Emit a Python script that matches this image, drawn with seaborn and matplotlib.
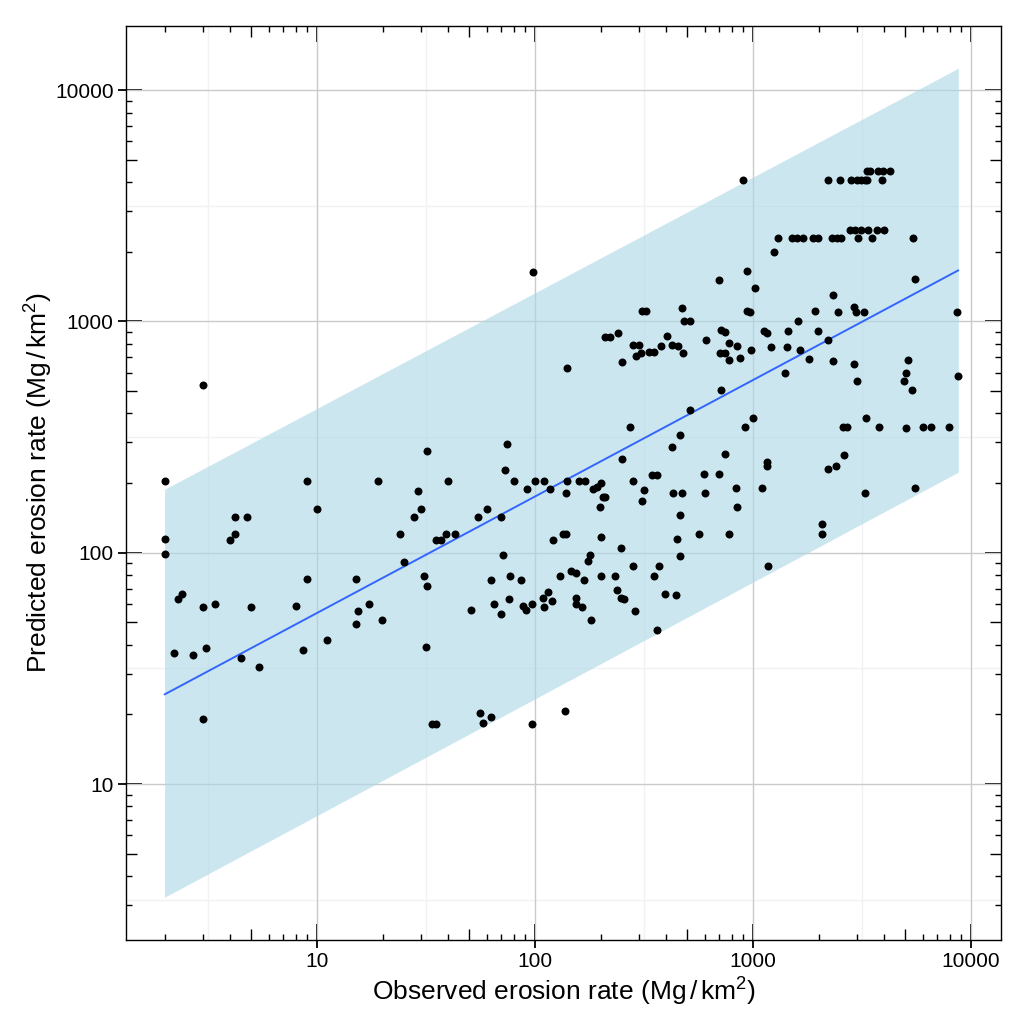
import matplotlib
matplotlib.use("Agg")
import matplotlib.pyplot as plt
import matplotlib.ticker as mticker
import seaborn as sns

# observed vs predicted erosion rates (Mg/km2)
observed = [
    3.0, 2.0, 9.0, 10, 19, 32, 29, 30, 28, 24, 25, 31, 32, 31.6, 2.0, 2.0,
    4.2, 4.8, 4.2, 4.0, 9.0, 15.1, 15.4, 15.1, 17.3, 19.9, 11.1, 8.0, 8.6,
    5.0, 3.4, 3.0, 2.3, 2.4, 2.2, 2.7, 3.1, 4.5, 5.4, 3.0, 33.6, 35.2,
    40, 74.5, 73, 80, 100, 110, 91.6, 117, 141, 160, 170, 139, 185, 192,
    201, 205, 210, 199, 281, 316, 311, 431, 472, 603, 462, 447, 462, 564,
    773, 54.8, 60, 70, 39, 43, 35, 37, 71.6, 63, 77, 86.6, 50.7, 64.6,
    75.7, 70, 88, 90.6, 96.8, 120.5, 135, 139, 201, 248, 179, 175, 130,
    146, 155, 168, 200, 233, 281, 371, 351, 109, 115, 119.4, 110, 154,
    155, 164, 237, 249, 256, 181, 289, 396, 443, 361, 55.7, 57.5, 63,
    96.6, 137,
    97.5, 140, 700, 472, 309, 323, 482, 514, 209, 221, 241, 251, 281, 301,
    290, 308, 332, 351, 377, 404, 425, 454, 479, 611, 711, 742, 776, 703,
    746, 777, 711, 512, 272, 461, 423, 745, 251, 344, 364, 596, 696,
    904, 2200, 2507, 2806, 2990, 3130, 3263, 3345, 3920,
    3325, 3443, 3760, 3963, 4256,
    1306, 1503, 1585, 1700, 1892, 1995, 2292, 2420, 2530, 3020, 3515, 5400,
    2786, 2937, 3130, 3380, 3690, 3990,
    1244, 5530, 8600, 8710, 935, 1020, 941, 968, 1122, 1155, 1452, 1614,
    1983, 1925, 2317, 2460, 2905, 2957, 3240, 2210, 1645, 1808, 1437, 1213,
    1406, 982, 843, 871, 2340, 2915, 3010, 5130, 5040, 4910, 5380, 1000,
    922, 3310, 2595, 2710, 3800, 5010, 6000, 6530, 7890, 2610, 2410, 2207,
    1163, 1163, 836, 1104, 3260, 5530, 842, 2080, 2080, 1170,
]
predicted = [
    530, 205, 205, 155, 205, 275, 185, 155, 143, 121, 91, 79, 72, 39, 115, 99,
    143, 143, 121, 113, 77, 77, 56, 49, 60, 51, 42, 59, 38,
    58, 60, 58, 63, 66.5, 37, 36, 38.6, 35, 32, 19.1, 18.1, 18.1,
    204, 294, 228, 204, 204, 204, 189, 189, 204, 204, 204, 181, 189, 192,
    200, 175, 175, 157, 204, 187, 168, 181, 181, 181, 146, 115, 97, 121,
    120, 143, 155, 143, 121, 121, 113, 113, 98, 76, 79, 76, 56.6, 59.8,
    63.4, 54.6, 59, 56.6, 59.8, 113, 121, 121, 117, 105, 98, 92.5, 79,
    83, 81.7, 76, 79, 79, 88, 88, 79, 63.8, 67.5, 62, 58, 64,
    60, 58, 69, 64, 63, 51.4, 56, 66, 65.5, 46.4, 20.2, 18.4, 19.5,
    18.1, 20.6,
    1637, 626, 1517, 1138, 1104, 1104, 1000, 1000, 859, 859, 890, 670, 788, 788,
    706, 728, 735, 735, 785, 861, 794, 785, 728, 833, 921, 903, 807, 733,
    733, 681, 506, 415, 349, 323, 287, 266, 254, 217, 217, 219, 219,
    4090, 4090, 4090, 4090, 4090, 4090, 4090, 4090, 4090,
    4475, 4475, 4475, 4475, 4475,
    2286, 2286, 2286, 2286, 2286, 2286, 2286, 2286, 2286, 2286, 2286, 2286,
    2484, 2484, 2484, 2484, 2484, 2484,
    1997, 1520, 1094, 578, 1648, 1397, 1108, 1094, 908, 893, 908, 1000,
    908, 1108, 1298, 1094, 1153, 1094, 1094, 828, 750, 690, 773, 773,
    597, 750, 782, 697, 675, 657, 550, 681, 597, 550, 506, 384,
    349, 384, 349, 349, 349, 345, 349, 349, 349, 264, 238, 231,
    246, 237, 190, 190, 181, 190, 158, 133, 121, 88,
]

# fitted line and prediction band (log-log), endpoints only
fit_x = [2.0, 8750.0]
fit_y = [24.4, 1663.0]
band_lower = [3.24, 223.0]
band_upper = [188.0, 12440.0]

x_breaks = [10, 100, 1000, 10000]
x_labels = ["10", "100", "1000", "10000"]
y_breaks = [10, 100, 1000, 10000]
y_labels = ["10", "100", "1000", "10000"]
mid_breaks = [5, 50, 500, 5000]
minor_grid = [10 ** 0.5, 10 ** 1.5, 10 ** 2.5, 10 ** 3.5]

sns.set_theme(style="white")
plt.rcParams["font.family"] = ["Liberation Sans", "DejaVu Sans"]
plt.rcParams["mathtext.fontset"] = "custom"
plt.rcParams["mathtext.rm"] = "Liberation Sans"
plt.rcParams["mathtext.it"] = "Liberation Sans:italic"
plt.rcParams["mathtext.bf"] = "Liberation Sans:bold"

fig = plt.figure(figsize=(10.24, 10.24), dpi=100)
ax = fig.add_axes([0.123, 0.0825, 0.855, 0.892])
ax.set_xscale("log")
ax.set_yscale("log")

# panel grid
for v in minor_grid:
    ax.axvline(v, color="#f2f2f2", lw=1.0, zorder=0)
    ax.axhline(v, color="#f2f2f2", lw=1.0, zorder=0)
ax.set_axisbelow(True)
ax.grid(True, which="major", color="#cacaca", lw=1.0)

ax.fill_between(fit_x, band_lower, band_upper, color="#add8e6", alpha=0.62,
                lw=0, zorder=1)
sns.lineplot(x=fit_x, y=fit_y, color="#3366ff", lw=1.4, ax=ax, zorder=2)
sns.scatterplot(x=observed, y=predicted, color="black", s=33, linewidth=0,
                ax=ax, zorder=3)

ax.set_xlim(1.33, 13800)
ax.set_ylim(2.127, 18910)

for side in ["left", "right", "top", "bottom"]:
    ax.spines[side].set_visible(True)
    ax.spines[side].set_color("black")
    ax.spines[side].set_linewidth(1.0)

ax.set_xticks(x_breaks)
ax.set_xticklabels(x_labels)
ax.set_yticks(y_breaks)
ax.set_yticklabels(y_labels)
for axis in [ax.xaxis, ax.yaxis]:
    axis.set_minor_locator(mticker.LogLocator(base=10, subs=[2, 3, 4, 6, 7, 8, 9], numticks=20))
    axis.set_minor_formatter(mticker.NullFormatter())

ax.tick_params(which="major", direction="out", length=5.8, width=1.3,
               color="black", labelsize=15, labelcolor="black", pad=3,
               bottom=True, left=True, top=False, right=False)
ax.tick_params(which="minor", direction="in", length=4.1, width=1.0,
               color="black", bottom=True, left=True, top=True, right=True)

# annotation-style log ticks: long at decades, medium at 5s
for loc in ["bottom", "top"]:
    sec = ax.secondary_xaxis(loc)
    sec.set_xticks(x_breaks)
    sec.xaxis.set_minor_locator(mticker.FixedLocator(mid_breaks))
    sec.xaxis.set_minor_formatter(mticker.NullFormatter())
    sec.tick_params(which="major", direction="in", length=11.3, width=1.3,
                    color="black", labelbottom=False, labeltop=False)
    sec.tick_params(which="minor", direction="in", length=7.7, width=1.0,
                    color="black")
    sec.spines[loc].set_visible(False)
for loc in ["left", "right"]:
    sec = ax.secondary_yaxis(loc)
    sec.set_yticks(y_breaks)
    sec.yaxis.set_minor_locator(mticker.FixedLocator(mid_breaks))
    sec.yaxis.set_minor_formatter(mticker.NullFormatter())
    sec.tick_params(which="major", direction="in", length=11.3, width=1.3,
                    color="black", labelleft=False, labelright=False)
    sec.tick_params(which="minor", direction="in", length=7.7, width=1.0,
                    color="black")
    sec.spines[loc].set_visible(False)

ax.set_xlabel(r"Observed erosion rate (Mg$\,/\,$km$^2$)", fontsize=19,
              color="black", labelpad=4)
ax.set_ylabel(r"Predicted erosion rate (Mg$\,/\,$km$^2$)", fontsize=19,
              color="black", labelpad=0)

fig.savefig("out.png", dpi=100)
